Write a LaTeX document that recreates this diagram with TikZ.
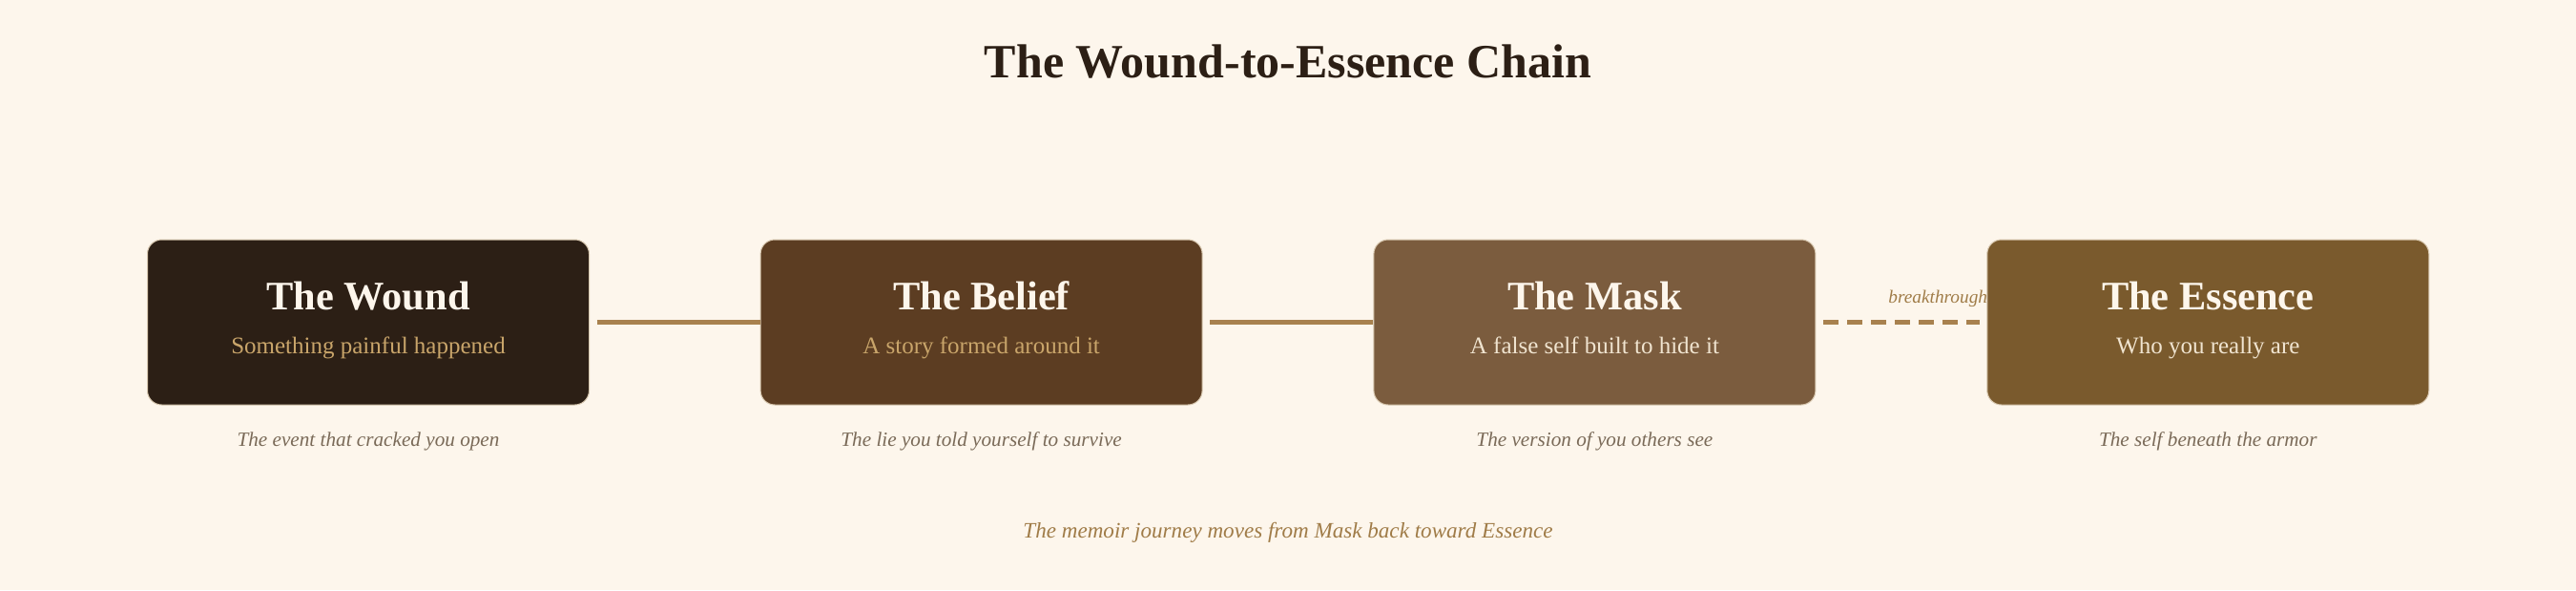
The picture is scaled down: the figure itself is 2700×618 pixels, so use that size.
\documentclass[tikz,border=0pt]{standalone}
\usepackage{fontspec}
\setmainfont{Liberation Serif}
\definecolor{bgc}{HTML}{FDF6EC}
\definecolor{darkc}{HTML}{2C1F15}
\definecolor{woundc}{HTML}{2C1F15}
\definecolor{beliefc}{HTML}{5C3D22}
\definecolor{maskc}{HTML}{7B5C3E}
\definecolor{essencec}{HTML}{7A5A2D}
\definecolor{connc}{HTML}{A8814E}
\definecolor{tanc}{HTML}{C9A56A}
\definecolor{lightc}{HTML}{F0E4D0}
\definecolor{capc}{HTML}{7A6A58}
\definecolor{accentc}{HTML}{A07C48}
\definecolor{edgec}{HTML}{D8C8B0}
\tikzset{
  stagebox/.style={draw=edgec, line width=0.5pt, rounded corners=7.5pt, minimum width=231.5pt, minimum height=86.5pt, inner sep=0pt},
  boxtitle/.style={anchor=base, inner sep=0pt, text=bgc, font=\fontsize{21.2}{24}\selectfont\bfseries},
  boxsub/.style={anchor=base, inner sep=0pt, font=\fontsize{12.5}{15}\selectfont},
  caption/.style={anchor=base, inner sep=0pt, text=capc, font=\fontsize{10.6}{13}\selectfont\itshape},
  conn/.style={draw=connc, line width=2.3pt},
  dashconn/.style={draw=connc, line width=2.3pt, dash pattern=on 7.7pt off 4.8pt}
}
\begin{document}
\begin{tikzpicture}[x=0.5pt,y=-0.5pt]
\fill[bgc] (0,0) rectangle (2700,618);
\useasboundingbox (0,0) rectangle (2700,618);

\node[anchor=base, inner sep=0pt, text=darkc, font=\fontsize{25}{30}\selectfont\bfseries] (title) at (1350,81) {The Wound-to-Essence Chain};

\node[anchor=base west, inner sep=0pt, text=accentc, font=\fontsize{9.65}{12}\selectfont\itshape] (brk) at (1979,317) {breakthrough};

\node[stagebox, fill=woundc] (wound) at (386,337.5) {};
\node[stagebox, fill=beliefc] (belief) at (1028.6,337.5) {};
\node[stagebox, fill=maskc] (mask) at (1671.4,337.5) {};
\node[stagebox, fill=essencec] (essence) at (2314.3,337.5) {};

\node[boxtitle] (woundT) at (386,324) {The Wound};
\node[boxsub, text=tanc] (woundS) at (386,370.5) {Something painful happened};
\node[boxtitle] (beliefT) at (1028.6,324) {The Belief};
\node[boxsub, text=tanc] (beliefS) at (1028.6,370.5) {A story formed around it};
\node[boxtitle] (maskT) at (1671.4,324) {The Mask};
\node[boxsub, text=lightc] (maskS) at (1671.4,370.5) {A false self built to hide it};
\node[boxtitle] (essenceT) at (2314.3,324) {The Essence};
\node[boxsub, text=lightc] (essenceS) at (2314.3,370.5) {Who you really are};

\node[caption] (woundC) at (386,467) {The event that cracked you open};
\node[caption] (beliefC) at (1028.6,467) {The lie you told yourself to survive};
\node[caption] (maskC) at (1671.4,467) {The version of you others see};
\node[caption] (essenceC) at (2314.3,467) {The self beneath the armor};

\draw[conn] ([xshift=3.85pt]wound.east) -- (belief.west);
\draw[conn] ([xshift=3.85pt]belief.east) -- (mask.west);
\draw[dashconn] ([xshift=3.85pt]mask.east) -- ([xshift=-3.85pt]essence.west);

\node[anchor=base, inner sep=0pt, text=accentc, font=\fontsize{11.55}{14}\selectfont\itshape] (footer) at (1350,563) {The memoir journey moves from Mask back toward Essence};
\end{tikzpicture}
\end{document}
